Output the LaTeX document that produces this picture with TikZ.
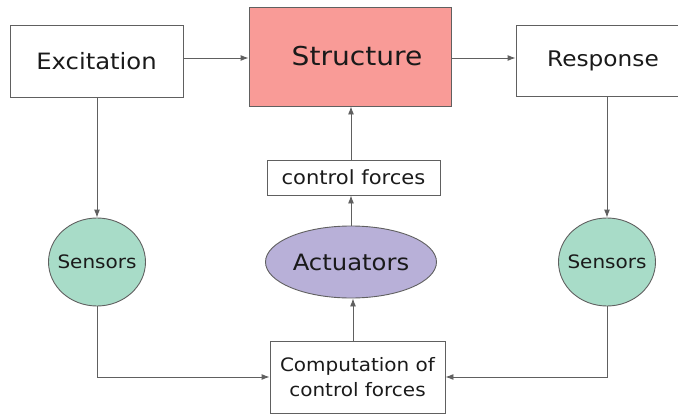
\documentclass[tikz,border=0pt]{standalone}
\usepackage{fontspec}
\setmainfont[FakeStretch=1.08]{DejaVu Sans}
\usetikzlibrary{arrows.meta,shapes.geometric}
\definecolor{linegray}{HTML}{606060}
\definecolor{structfill}{HTML}{F99B97}
\definecolor{sensfill}{HTML}{A8DCC8}
\definecolor{actfill}{HTML}{B8B0D8}
\definecolor{txt}{HTML}{1A1A1A}
\begin{document}
\begin{tikzpicture}[x=1pt,y=-1pt,
  box/.style={draw=linegray, line width=0.9pt, rectangle, inner sep=0pt, text=txt},
  blob/.style={draw=linegray, line width=0.9pt, ellipse, inner sep=0pt, text=txt},
  lbl/.style={inner sep=0pt, text=txt},
  conn/.style={draw=linegray, line width=0.9pt, -{Latex[length=8pt,width=6pt]}}
]
\useasboundingbox (0,0) rectangle (678,415);
\clip (0,0) rectangle (678,415);
\node[box, minimum width=173pt, minimum height=72pt, font=\fontsize{22.5}{26}\selectfont] (exc) at (96.5,61) {Excitation};
\node[box, fill=structfill, minimum width=202pt, minimum height=99pt, font=\fontsize{26}{30}\selectfont] (str) at (350,56.5) {\hspace*{14pt}Structure};
\node[box, minimum width=174pt, minimum height=71pt, font=\fontsize{21.5}{25}\selectfont] (resp) at (603,60.5) {Response};
\node[box, minimum width=173pt, minimum height=35pt, font=\fontsize{19.5}{22}\selectfont] (cf) at (353.5,177.5) {control forces};
\node[blob, fill=sensfill, minimum width=97pt, minimum height=88pt] (sl) at (97,262) {};
\node[lbl, font=\fontsize{18.5}{21}\selectfont] (sltext) at (sl.center) {Sensors};
\node[blob, fill=sensfill, minimum width=97pt, minimum height=88pt] (sr) at (607,262) {};
\node[lbl, font=\fontsize{18.5}{21}\selectfont] (srtext) at (sr.center) {Sensors};
\node[blob, fill=actfill, minimum width=171pt, minimum height=72pt] (act) at (351,262) {};
\node[lbl, font=\fontsize{22.5}{26}\selectfont] (acttext) at (act.center) {Actuators};
\node[box, minimum width=175pt, minimum height=72pt, align=center, font=\fontsize{18.5}{25}\selectfont] (comp) at (357.5,377) {Computation of\\control forces};
\draw[conn] (exc.east |- 0,58) -- (str.west |- 0,58);
\draw[conn] (str.east |- 0,58) -- (resp.west |- 0,58);
\draw[conn] (exc.south -| 97,0) -- (sl.north);
\draw[conn] (resp.south -| 607,0) -- (sr.north);
\draw[conn] (cf.north -| 351,0) -- (str.south -| 351,0);
\draw[conn] (act.north) -- (cf.south -| 351,0);
\draw[conn] (comp.north -| 353,0) -- (act.south -| 353,0);
\draw[conn] (sl.south) |- (comp.west);
\draw[conn] (sr.south) |- (comp.east);
\end{tikzpicture}
\end{document}
